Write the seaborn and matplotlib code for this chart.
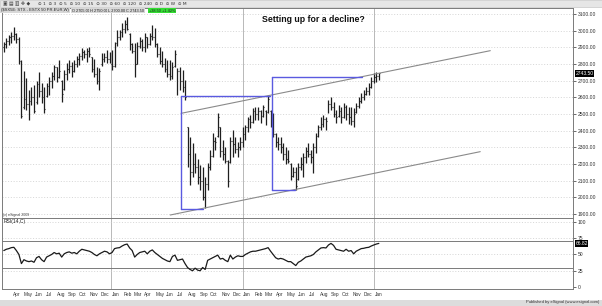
import numpy as np
import pandas as pd
import matplotlib
matplotlib.use("Agg")
import matplotlib.pyplot as plt
import matplotlib.dates as mdates
from matplotlib.patches import Rectangle
import seaborn as sns

# ---------------- data ----------------
first_week = "2010-03-08"
n_weeks = 150

highs = [2934, 2956, 2974, 2994, 3024, 2986, 2964, 2824, 2760, 2716,
         2644, 2664, 2674, 2700, 2752, 2686, 2662, 2686, 2722, 2752,
         2794, 2782, 2824, 2704, 2764, 2806, 2824, 2812, 2824, 2850,
         2866, 2896, 2884, 2896, 2902, 2842, 2830, 2780, 2776, 2866,
         2866, 2884, 2872, 2884, 2932, 3004, 3004, 3046, 3064, 3082,
         2986, 2926, 2926, 2930, 2962, 2950, 2986, 2962, 2986, 3034,
         3016, 2926, 2900, 2880, 2836, 2824, 2824, 2810, 2884, 2776,
         2782, 2764, 2704, 2422, 2362, 2326, 2266, 2230, 2194, 2182,
         2122, 2206, 2284, 2386, 2362, 2506, 2422, 2344, 2302, 2224,
         2362, 2404, 2362, 2332, 2362, 2422, 2434, 2482, 2494, 2536,
         2542, 2542, 2524, 2554, 2524, 2614, 2524, 2506, 2386, 2362,
         2362, 2326, 2300, 2284, 2206, 2182, 2182, 2206, 2242, 2266,
         2302, 2326, 2284, 2326, 2386, 2434, 2482, 2494, 2482, 2584,
         2602, 2572, 2524, 2554, 2542, 2566, 2554, 2542, 2542, 2536,
         2566, 2602, 2626, 2644, 2662, 2686, 2722, 2746, 2752, 2746]

lows = [2874, 2896, 2914, 2924, 2944, 2926, 2800, 2476, 2530, 2524,
        2464, 2554, 2506, 2560, 2602, 2566, 2506, 2602, 2614, 2656,
        2704, 2692, 2716, 2572, 2644, 2704, 2746, 2722, 2752, 2780,
        2794, 2824, 2836, 2812, 2842, 2752, 2720, 2680, 2644, 2790,
        2812, 2806, 2806, 2764, 2780, 2910, 2944, 2962, 2986, 3004,
        2884, 2866, 2722, 2800, 2896, 2880, 2870, 2896, 2914, 2944,
        2902, 2842, 2800, 2782, 2752, 2722, 2704, 2710, 2782, 2614,
        2644, 2632, 2584, 2182, 2074, 2122, 2146, 2080, 2044, 1984,
        1936, 2044, 2164, 2242, 2284, 2362, 2242, 2224, 2206, 2062,
        2206, 2242, 2266, 2242, 2284, 2302, 2344, 2392, 2416, 2446,
        2464, 2464, 2446, 2482, 2434, 2506, 2422, 2362, 2302, 2284,
        2266, 2224, 2200, 2206, 2104, 2122, 2044, 2104, 2164, 2122,
        2206, 2242, 2206, 2146, 2266, 2362, 2404, 2422, 2404, 2506,
        2524, 2482, 2446, 2482, 2446, 2476, 2464, 2440, 2434, 2422,
        2506, 2536, 2566, 2584, 2614, 2614, 2656, 2686, 2692, 2704]

opens = [2900, 2920, 2940, 2960, 2970, 2980, 2950, 2820, 2540, 2590,
         2560, 2580, 2600, 2570, 2680, 2640, 2600, 2610, 2670, 2700,
         2730, 2780, 2720, 2700, 2650, 2740, 2770, 2790, 2760, 2800,
         2830, 2850, 2870, 2860, 2880, 2840, 2770, 2740, 2700, 2800,
         2830, 2840, 2830, 2800, 2790, 2925, 2960, 2990, 3010, 3040,
         2980, 2920, 2880, 2800, 2910, 2940, 2900, 2960, 2920, 2970,
         2960, 2920, 2860, 2820, 2800, 2770, 2740, 2730, 2790, 2770,
         2760, 2700, 2660, 2420, 2260, 2150, 2200, 2180, 2120, 2100,
         2000, 2080, 2180, 2250, 2340, 2370, 2420, 2280, 2260, 2220,
         2210, 2340, 2320, 2290, 2300, 2330, 2380, 2420, 2470, 2450,
         2520, 2500, 2520, 2490, 2520, 2510, 2520, 2450, 2380, 2330,
         2320, 2300, 2260, 2230, 2200, 2130, 2150, 2110, 2180, 2200,
         2240, 2280, 2260, 2240, 2300, 2370, 2420, 2440, 2470, 2510,
         2560, 2540, 2500, 2490, 2520, 2480, 2540, 2500, 2480, 2460,
         2510, 2550, 2580, 2600, 2620, 2640, 2660, 2700, 2720, 2730]

closes = [2920, 2940, 2960, 2970, 2980, 2950, 2820, 2490, 2590, 2560,
          2580, 2600, 2520, 2680, 2640, 2600, 2530, 2670, 2700, 2730,
          2780, 2720, 2760, 2620, 2740, 2770, 2790, 2760, 2800, 2830,
          2850, 2870, 2860, 2880, 2860, 2770, 2740, 2700, 2760, 2830,
          2840, 2830, 2800, 2790, 2925, 2960, 2990, 3010, 3040, 3010,
          2920, 2880, 2800, 2910, 2940, 2900, 2960, 2920, 2970, 2960,
          2920, 2860, 2820, 2800, 2770, 2740, 2730, 2780, 2860, 2760,
          2700, 2660, 2600, 2260, 2150, 2200, 2180, 2120, 2100, 2000,
          2080, 2180, 2250, 2340, 2330, 2480, 2280, 2260, 2220, 2100,
          2340, 2320, 2290, 2300, 2330, 2380, 2420, 2470, 2450, 2520,
          2500, 2520, 2470, 2540, 2500, 2590, 2450, 2380, 2330, 2320,
          2300, 2260, 2230, 2220, 2130, 2150, 2070, 2180, 2200, 2240,
          2280, 2260, 2240, 2300, 2370, 2420, 2440, 2470, 2460, 2560,
          2540, 2500, 2480, 2520, 2480, 2540, 2500, 2480, 2460, 2500,
          2550, 2580, 2600, 2620, 2640, 2660, 2700, 2720, 2730, 2743.5]

rsi = [56, 58, 59, 60.5, 61, 56, 50, 36, 42, 40,
       39, 40, 38, 45, 47, 42, 39, 46, 48, 50,
       53, 51, 52, 46, 51, 53, 54, 52, 53, 51,
       55, 58, 57, 56, 55, 53, 50, 48, 51, 53,
       55, 54, 51, 53, 59, 60, 60.5, 63, 65, 66,
       60, 56, 46, 50, 53, 54, 55, 51, 55, 57,
       53, 50, 47, 44, 42, 40, 39, 47, 49, 41,
       42, 43, 36, 30, 27, 25, 29, 26, 25, 30,
       27, 41, 43, 45, 47, 49, 43, 44, 41, 39,
       49, 43, 46, 48, 47, 47, 50, 52, 54, 55,
       55, 56, 57, 58, 59, 60.5, 55, 50, 45, 43,
       44, 43, 41, 39, 39, 36, 33, 38, 40, 43,
       46, 47, 48, 50, 54, 57, 60, 60.5, 60, 64.6,
       67, 64, 58, 57, 56, 55, 58, 55, 56, 51,
       55, 57, 59, 59.5, 60.5, 61, 63, 64.6, 66, 67]

price_ticks = [1900, 2000, 2100, 2200, 2300, 2400, 2500, 2600, 2700,
               2800, 2900, 3000, 3100]
rsi_ticks = [0, 25, 50, 75, 100]
rsi_bands = [30, 70]
last_price_label = "2743.50"
last_rsi_label = "66.82"

# annotation drawings (date, price)
upper_channel = (["2011-07-14", "2013-11-20"], [2504, 2880])
lower_channel = (["2011-06-14", "2013-10-23"], [1894, 2274])
box1 = {"left": "2011-07-14", "top_end": "2012-03-18", "bot_end": "2011-09-14",
        "top": 2608, "bottom": 1930}
box2 = {"left": "2012-03-23", "top_end": "2012-11-29", "bot_end": "2012-05-27",
        "top": 2722, "bottom": 2044}

title = "Setting up for a decline?"
symbol_label = "($SX5E: STX - ESTX 50 PR.EUR,W)"
ohlc_boxes = ["O 2705.00", "H 2750.00", "L 2700.00", "C 2743.50"]
change_label = "+38.50 +1.42%"
intervals = ["1", "3", "5", "10", "15", "30", "60", "120", "240", "D", "W", "M"]

# ---------------- figure ----------------
sns.set_style("white")
plt.rcParams["font.family"] = ["Liberation Sans", "DejaVu Sans"]

W, H = 602, 306
fig = plt.figure(figsize=(W / 100, H / 100), dpi=100)
fig.patch.set_facecolor("white")


def fx(px):
    return px / W


def fy(py):
    return 1 - py / H


ax = fig.add_axes([fx(2), fy(218), fx(571), (218 - 8) / H])
axr = fig.add_axes([fx(2), fy(289), fx(571), (289 - 218) / H], sharex=ax)

dates = pd.date_range(first_week, periods=n_weeks, freq="7D")
df = pd.DataFrame({"date": dates, "open": opens, "high": highs,
                   "low": lows, "close": closes, "rsi": rsi})

xmin = pd.Timestamp("2010-03-03")
xmax = pd.Timestamp("2014-07-08")
tick = pd.Timedelta(days=2.5)

bar_col = "#1e1e1e"
ax.vlines(df["date"], df["low"], df["high"], color=bar_col, lw=0.9)
ax.hlines(df["open"], df["date"] - tick, df["date"], color=bar_col, lw=0.8)
ax.hlines(df["close"], df["date"], df["date"] + tick, color=bar_col, lw=0.8)

ax.set_xlim(xmin, xmax)
ax.set_ylim(1876, 3136)

grid_col = "#c8c8c8"
for p in price_ticks:
    ax.axhline(p, color=grid_col, lw=0.5, ls=(0, (1.5, 2.5)), zorder=0)

year_starts = pd.to_datetime(["2011-01-01", "2012-01-01", "2013-01-01"])
for d in year_starts:
    ax.axvline(d, color="#b8b8b8", lw=0.7, zorder=0)
    axr.axvline(d, color="#b8b8b8", lw=0.7, zorder=0)

# channel lines
chan_col = "#8a8a8a"
ax.plot(pd.to_datetime(upper_channel[0]), upper_channel[1], color=chan_col, lw=0.8)
ax.plot(pd.to_datetime(lower_channel[0]), lower_channel[1], color=chan_col, lw=0.8)

# boxes
box_col = "#5a5ae0"
for b in (box1, box2):
    L = pd.Timestamp(b["left"])
    ax.plot([L, L], [b["bottom"], b["top"]], color=box_col, lw=1.0)
    ax.plot([L, pd.Timestamp(b["top_end"])], [b["top"], b["top"]], color=box_col, lw=1.0)
    ax.plot([L, pd.Timestamp(b["bot_end"])], [b["bottom"], b["bottom"]], color=box_col, lw=1.0)

# axis styling
for a in (ax, axr):
    for s in a.spines.values():
        s.set_color("#7a7a7a")
        s.set_linewidth(0.7)
    a.tick_params(left=False, bottom=False, labelleft=False, labelbottom=False)
    a.yaxis.tick_right()

ax.set_yticks(price_ticks)
ax.set_yticklabels([f"{p:.2f}" for p in price_ticks])
ax.tick_params(axis="y", right=True, labelright=True, length=2, width=0.5,
               pad=1.5, labelsize=3.6, colors="#303030")
ax.set_xlabel("")
ax.set_ylabel("")

ax.text(1.004, 2743.5, last_price_label, transform=ax.get_yaxis_transform(),
        fontsize=3.6, color="white", va="center", ha="left",
        bbox=dict(boxstyle="square,pad=0.15", fc="black", ec="none"))

ax.text(0.002, 1895, "(c) eSignal 2009", fontsize=2.6, color="#404040",
        transform=ax.get_yaxis_transform(), va="center")

fig.text(fx(313), fy(20), title, fontsize=6.3, fontweight="bold",
         ha="center", va="center", color="#111111")

# RSI panel
sns.lineplot(data=df, x="date", y="rsi", ax=axr, color="#1a1a1a", lw=0.9)
axr.set_ylim(-3, 106)
axr.set_xlim(xmin, xmax)
for b in rsi_bands:
    axr.axhline(b, color="#7a7a7a", lw=0.7, zorder=1)
for r in rsi_ticks[1:]:
    axr.axhline(r, color=grid_col, lw=0.5, ls=(0, (1.5, 2.5)), zorder=0)
axr.set_yticks(rsi_ticks)
axr.set_yticklabels([str(r) for r in rsi_ticks])
axr.tick_params(axis="y", right=True, labelright=True, length=2, width=0.5,
                pad=1.5, labelsize=3.6, colors="#303030")
axr.set_xlabel("")
axr.set_ylabel("")
axr.text(1.004, 67, last_rsi_label, transform=axr.get_yaxis_transform(),
         fontsize=3.6, color="white", va="center", ha="left",
         bbox=dict(boxstyle="square,pad=0.15", fc="black", ec="none"))
axr.text(0.002, 100, "RSI(14,C)", transform=axr.get_yaxis_transform(),
         fontsize=3.6, color="#202020", va="center", ha="left")

# month labels
months = pd.date_range("2010-04-01", "2013-01-01", freq="MS")
for m in months:
    axr.text(m + pd.Timedelta(days=2), -0.04, m.strftime("%b"),
             transform=axr.get_xaxis_transform(), fontsize=3.4,
             ha="left", va="top", color="#303030")
    if m.month == 1:
        axr.text(m + pd.Timedelta(days=2), -0.16, str(m.year),
                 transform=axr.get_xaxis_transform(), fontsize=3.4,
                 ha="left", va="top", color="#303030")

# toolbar
fig.patches.append(Rectangle((0, fy(7)), 1, 7 / H, transform=fig.transFigure,
                             fc="#e6e6e6", ec="#bdbdbd", lw=0.4, zorder=0))
fig.text(fx(3), fy(3.6), "\u25a3 \u25a4 \u25a5 \u2725 \u25c6", fontsize=3.4,
         color="#404040", va="center", family=["DejaVu Sans"])
fig.text(fx(38), fy(3.6), "  ".join("\u2299 " + s for s in intervals),
         fontsize=3.2, color="#303030", va="center", family=["DejaVu Sans"])

# info row
fig.text(fx(1), fy(10.5), symbol_label, fontsize=3.0, color="#202020", va="center",
         bbox=dict(boxstyle="square,pad=0.15", fc="#d8d8d8", ec="none"))
xpos = [72, 90, 108, 126]
for xp, s in zip(xpos, ohlc_boxes):
    fig.text(fx(xp), fy(10.5), s, fontsize=2.8, color="#202020", va="center",
             bbox=dict(boxstyle="square,pad=0.15", fc="#d8d8d8", ec="none"))
fig.text(fx(149), fy(10.5), change_label, fontsize=2.8, color="#202020", va="center",
         bbox=dict(boxstyle="square,pad=0.15", fc="#33dd33", ec="none"))

# footer
fig.patches.append(Rectangle((0, 0), 1, 6 / H, transform=fig.transFigure,
                             fc="#dcdcdc", ec="none", zorder=0))
fig.text(fx(599), fy(302.5), "Published by eSignal (www.esignal.com)", fontsize=3.0,
         color="#303030", ha="right", va="center")

fig.savefig("out.png", dpi=100)
